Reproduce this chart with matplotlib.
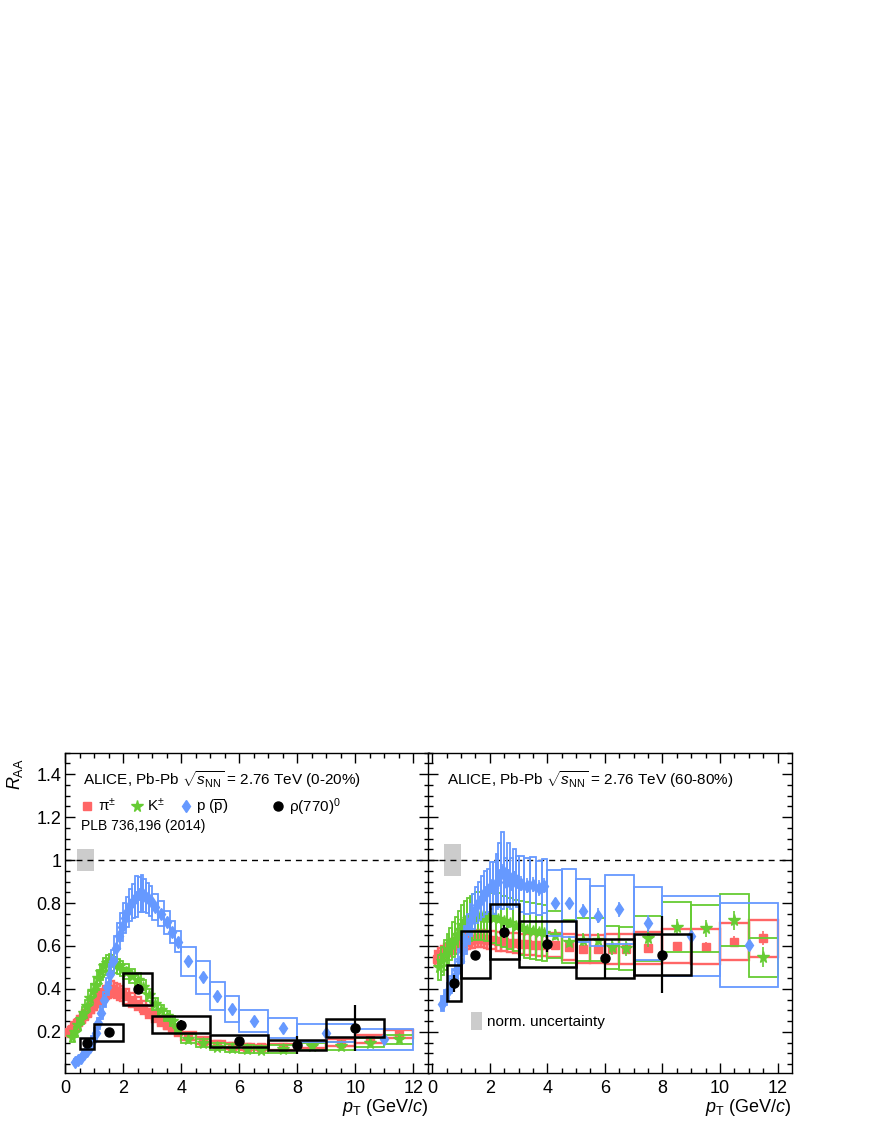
import numpy as np
import matplotlib
matplotlib.use('Agg')
import matplotlib.pyplot as plt
from matplotlib.lines import Line2D
from matplotlib.patches import Patch
from matplotlib.ticker import MultipleLocator, FuncFormatter

plt.rcParams['font.family'] = ['Liberation Sans', 'DejaVu Sans']
plt.rcParams['mathtext.fontset'] = 'custom'
plt.rcParams['mathtext.rm'] = 'Liberation Sans'
plt.rcParams['mathtext.it'] = 'Liberation Sans:italic'
plt.rcParams['mathtext.bf'] = 'Liberation Sans:bold'
plt.rcParams['mathtext.sf'] = 'Liberation Sans'

# ---------------- bin edges (GeV/c) ----------------
pion_edges = [0.1, 0.2, 0.3, 0.4, 0.5, 0.6, 0.7, 0.8, 0.9, 1.0, 1.1, 1.2, 1.3, 1.4,
              1.5, 1.6, 1.7, 1.8, 1.9, 2.0, 2.2, 2.4, 2.6, 2.8, 3.0, 3.2, 3.4, 3.6,
              3.8, 4.0, 4.5, 5.0, 5.5, 6.0, 6.5, 7.0, 8.0, 9.0, 10.0, 11.0, 12.0]
kaon_edges = [0.2, 0.3, 0.4, 0.5, 0.6, 0.7, 0.8, 0.9, 1.0, 1.1, 1.2, 1.3, 1.4, 1.5,
              1.6, 1.7, 1.8, 1.9, 2.0, 2.2, 2.4, 2.6, 2.8, 3.0, 3.2, 3.4, 3.6, 3.8,
              4.0, 4.5, 5.0, 5.5, 6.0, 6.5, 7.0, 8.0, 9.0, 10.0, 11.0, 12.0]
proton_edges = [0.3, 0.4, 0.5, 0.6, 0.7, 0.8, 0.9, 1.0, 1.1, 1.2, 1.3, 1.4, 1.5, 1.6,
                1.7, 1.8, 1.9, 2.0, 2.1, 2.2, 2.3, 2.4, 2.5, 2.6, 2.7, 2.8, 2.9, 3.0,
                3.2, 3.4, 3.6, 3.8, 4.0, 4.5, 5.0, 5.5, 6.0, 7.0, 8.0, 10.0, 12.0]
rho_edges_020 = [0.5, 1.0, 2.0, 3.0, 5.0, 7.0, 9.0, 11.0]
rho_edges_6080 = [0.5, 1.0, 2.0, 3.0, 5.0, 7.0, 9.0]

# ---------------- 0-20% ----------------
pion_020 = [0.200, 0.215, 0.230, 0.245, 0.260, 0.275, 0.290, 0.305, 0.320, 0.335,
            0.350, 0.365, 0.378, 0.390, 0.397, 0.398, 0.392, 0.385, 0.377,
            0.366, 0.350, 0.332, 0.313, 0.293, 0.272, 0.252, 0.234, 0.217, 0.202,
            0.182, 0.158, 0.143, 0.134, 0.130, 0.128,
            0.130, 0.138, 0.150, 0.168, 0.190]
pion_020_stat = [0.002, 0.002, 0.002, 0.002, 0.002, 0.002, 0.002, 0.002, 0.002, 0.002,
                 0.002, 0.002, 0.002, 0.002, 0.002, 0.002, 0.002, 0.002, 0.002,
                 0.003, 0.003, 0.003, 0.003, 0.003, 0.003, 0.003, 0.003, 0.003, 0.003,
                 0.004, 0.004, 0.005, 0.005, 0.006, 0.006,
                 0.006, 0.007, 0.008, 0.010, 0.012]
pion_020_sys = [0.025, 0.025, 0.026, 0.027, 0.028, 0.029, 0.030, 0.031, 0.032, 0.033,
                0.034, 0.035, 0.036, 0.036, 0.037, 0.037, 0.036, 0.036, 0.035,
                0.034, 0.033, 0.031, 0.030, 0.028, 0.026, 0.024, 0.022, 0.021, 0.020,
                0.018, 0.016, 0.014, 0.013, 0.013, 0.013,
                0.013, 0.014, 0.016, 0.018, 0.020]

kaon_020 = [0.175, 0.200, 0.230, 0.260, 0.290, 0.320, 0.360, 0.390, 0.420, 0.450,
            0.480, 0.505, 0.520, 0.525, 0.520, 0.510, 0.505, 0.495,
            0.480, 0.460, 0.440, 0.410, 0.370, 0.330, 0.300, 0.275, 0.250, 0.215,
            0.168, 0.150, 0.132, 0.125, 0.120, 0.118,
            0.120, 0.133, 0.135, 0.150, 0.165]
kaon_020_stat = [0.003, 0.003, 0.003, 0.003, 0.003, 0.003, 0.003, 0.003, 0.003, 0.003,
                 0.003, 0.003, 0.003, 0.003, 0.003, 0.003, 0.003, 0.003,
                 0.004, 0.004, 0.004, 0.004, 0.004, 0.004, 0.004, 0.004, 0.004, 0.004,
                 0.005, 0.005, 0.006, 0.006, 0.007, 0.008,
                 0.008, 0.010, 0.012, 0.015, 0.018]
kaon_020_sys = [0.020, 0.022, 0.024, 0.026, 0.028, 0.030, 0.032, 0.034, 0.035, 0.036,
                0.037, 0.038, 0.038, 0.038, 0.038, 0.037, 0.036, 0.035,
                0.034, 0.033, 0.032, 0.030, 0.028, 0.026, 0.024, 0.023, 0.022, 0.020,
                0.020, 0.018, 0.017, 0.017, 0.017, 0.017,
                0.017, 0.017, 0.018, 0.020, 0.022]

proton_020 = [0.060, 0.070, 0.080, 0.095, 0.110, 0.130, 0.160,
              0.195, 0.240, 0.290, 0.350, 0.410, 0.470, 0.530, 0.590, 0.645, 0.690,
              0.730, 0.760, 0.790, 0.810, 0.830, 0.840, 0.845, 0.835, 0.825, 0.810,
              0.780, 0.750, 0.710, 0.665, 0.620,
              0.528, 0.455, 0.366, 0.307,
              0.250, 0.218,
              0.195, 0.165]
proton_020_stat = [0.003, 0.003, 0.003, 0.003, 0.003, 0.003, 0.003,
                   0.005, 0.005, 0.005, 0.005, 0.005, 0.005, 0.005, 0.005, 0.005, 0.005,
                   0.008, 0.008, 0.008, 0.008, 0.008, 0.008, 0.008, 0.008, 0.008, 0.008,
                   0.010, 0.010, 0.010, 0.010, 0.010,
                   0.015, 0.016, 0.017, 0.018,
                   0.015, 0.015,
                   0.012, 0.012]
proton_020_sys = [0.012, 0.012, 0.013, 0.014, 0.015, 0.017, 0.019,
                  0.022, 0.026, 0.030, 0.035, 0.040, 0.045, 0.050, 0.055, 0.060, 0.065,
                  0.068, 0.070, 0.075, 0.080, 0.095, 0.080, 0.085, 0.075, 0.070, 0.070,
                  0.060, 0.058, 0.055, 0.052, 0.050,
                  0.067, 0.077, 0.065, 0.062,
                  0.050, 0.047,
                  0.044, 0.048]

rho_020 = [0.146, 0.198, 0.400, 0.234, 0.158, 0.138, 0.218]
rho_020_stat = [0.012, 0.012, 0.023, 0.020, 0.012, 0.043, 0.108]
rho_020_sys = [0.027, 0.040, 0.073, 0.040, 0.027, 0.023, 0.040]

# ---------------- 60-80% ----------------
pion_6080 = [0.540, 0.555, 0.565, 0.575, 0.585, 0.590, 0.600, 0.605, 0.610, 0.615,
             0.620, 0.625, 0.630, 0.632, 0.634, 0.635, 0.634, 0.632, 0.630,
             0.627, 0.623, 0.620, 0.616, 0.613, 0.610, 0.608, 0.606, 0.605, 0.604,
             0.605, 0.597, 0.585, 0.585, 0.588, 0.588,
             0.592, 0.600, 0.597, 0.620, 0.636]
pion_6080_stat = [0.004, 0.004, 0.004, 0.004, 0.004, 0.004, 0.004, 0.004, 0.004, 0.004,
                  0.004, 0.004, 0.004, 0.004, 0.004, 0.004, 0.004, 0.004, 0.004,
                  0.006, 0.006, 0.006, 0.006, 0.006, 0.006, 0.006, 0.006, 0.006, 0.006,
                  0.010, 0.010, 0.012, 0.013, 0.015, 0.016,
                  0.015, 0.018, 0.022, 0.027, 0.032]
pion_6080_sys = [0.035, 0.035, 0.035, 0.036, 0.036, 0.037, 0.037, 0.038, 0.038, 0.039,
                 0.039, 0.040, 0.040, 0.040, 0.041, 0.041, 0.041, 0.042, 0.042,
                 0.043, 0.044, 0.045, 0.046, 0.047, 0.048, 0.049, 0.050, 0.050, 0.050,
                 0.055, 0.060, 0.065, 0.065, 0.070, 0.070,
                 0.075, 0.080, 0.080, 0.085, 0.085]

kaon_6080 = [0.500, 0.530, 0.560, 0.585, 0.610, 0.630, 0.650, 0.675, 0.700, 0.715,
             0.725, 0.730, 0.735, 0.740, 0.740, 0.740, 0.735, 0.735,
             0.730, 0.725, 0.715, 0.705, 0.695, 0.685, 0.675, 0.670, 0.665, 0.660,
             0.652, 0.620, 0.630, 0.630, 0.594, 0.590,
             0.636, 0.690, 0.683, 0.720, 0.547]
kaon_6080_stat = [0.010, 0.010, 0.010, 0.010, 0.010, 0.010, 0.010, 0.010, 0.010, 0.010,
                  0.010, 0.010, 0.010, 0.010, 0.010, 0.010, 0.010, 0.010,
                  0.020, 0.020, 0.020, 0.020, 0.020, 0.020, 0.020, 0.020, 0.020, 0.020,
                  0.025, 0.025, 0.030, 0.030, 0.035, 0.035,
                  0.040, 0.035, 0.040, 0.045, 0.047]
kaon_6080_sys = [0.060, 0.065, 0.070, 0.070, 0.075, 0.080, 0.085, 0.090, 0.090, 0.095,
                 0.100, 0.105, 0.105, 0.110, 0.110, 0.110, 0.110, 0.110,
                 0.115, 0.120, 0.120, 0.120, 0.120, 0.125, 0.130, 0.130, 0.130, 0.130,
                 0.110, 0.100, 0.100, 0.100, 0.100, 0.100,
                 0.105, 0.116, 0.110, 0.120, 0.090]

proton_6080 = [0.330, 0.360, 0.390, 0.420, 0.450, 0.490, 0.530,
               0.580, 0.630, 0.680, 0.720, 0.760, 0.790, 0.810, 0.830, 0.850, 0.860,
               0.880, 0.870, 0.900, 0.930, 0.950, 0.900, 0.930, 0.890, 0.920, 0.900,
               0.890, 0.880, 0.885, 0.870, 0.880,
               0.800, 0.800, 0.765, 0.741,
               0.771, 0.706,
               0.647, 0.605]
proton_6080_stat = [0.010, 0.010, 0.010, 0.010, 0.010, 0.010, 0.010,
                    0.020, 0.020, 0.020, 0.020, 0.020, 0.020, 0.020, 0.020, 0.020, 0.020,
                    0.030, 0.030, 0.030, 0.030, 0.030, 0.030, 0.030, 0.030, 0.030, 0.030,
                    0.035, 0.035, 0.035, 0.035, 0.035,
                    0.025, 0.025, 0.030, 0.035,
                    0.035, 0.040,
                    0.010, 0.010]
proton_6080_sys = [0.035, 0.035, 0.040, 0.040, 0.045, 0.050, 0.055,
                   0.060, 0.065, 0.070, 0.075, 0.080, 0.085, 0.090, 0.095, 0.100, 0.100,
                   0.110, 0.120, 0.130, 0.150, 0.180, 0.110, 0.150, 0.120, 0.130, 0.120,
                   0.130, 0.130, 0.130, 0.125, 0.125,
                   0.155, 0.160, 0.145, 0.140,
                   0.160, 0.170,
                   0.185, 0.195]

rho_6080 = [0.427, 0.559, 0.666, 0.610, 0.542, 0.559]
rho_6080_stat = [0.039, 0.020, 0.030, 0.040, 0.090, 0.180]
rho_6080_sys = [0.083, 0.110, 0.128, 0.107, 0.090, 0.095]

# normalisation uncertainty around unity
norm_unc = [0.053, 0.076]
norm_box_x = [0.42, 1.0]

labels_cent = ['0-20%', '60-80%']

c_pi = '#ff6666'
c_k = '#66cc33'
c_p = '#6699ff'
c_norm = '#cccccc'


def draw_species(ax, edges, raa, stat, sys, color, marker, ms, z, lw_box=1.3, lw_err=1.2):
    edges = np.array(edges)
    pt = 0.5 * (edges[:-1] + edges[1:])
    width = np.diff(edges)
    raa = np.array(raa)
    sys = np.array(sys)
    ax.bar(pt, 2 * sys, width=width, bottom=raa - sys, fill=False,
           edgecolor=color, linewidth=lw_box, zorder=z)
    ax.errorbar(pt, raa, yerr=stat, fmt=marker, color=color, mec=color, ms=ms,
                elinewidth=lw_err, capsize=0, zorder=z + 0.5)


fig = plt.figure(figsize=(8.73, 11.3), dpi=100)
ax1 = fig.add_axes([0.0745, 0.0507, 0.4164, 0.2832])
ax2 = fig.add_axes([0.4908, 0.0507, 0.4160, 0.2832])

panels = [
    (ax1, pion_020, pion_020_stat, pion_020_sys, kaon_020, kaon_020_stat, kaon_020_sys,
     proton_020, proton_020_stat, proton_020_sys, rho_edges_020, rho_020, rho_020_stat,
     rho_020_sys, norm_unc[0], labels_cent[0]),
    (ax2, pion_6080, pion_6080_stat, pion_6080_sys, kaon_6080, kaon_6080_stat, kaon_6080_sys,
     proton_6080, proton_6080_stat, proton_6080_sys, rho_edges_6080, rho_6080, rho_6080_stat,
     rho_6080_sys, norm_unc[1], labels_cent[1]),
]

for (ax, pi, pi_st, pi_sy, k, k_st, k_sy, p, p_st, p_sy,
     rho_e, rho, rho_st, rho_sy, nu, cent) in panels:
    ax.fill_between(norm_box_x, 1 - nu, 1 + nu, color=c_norm, lw=0, zorder=1)
    ax.axhline(1.0, color='black', lw=1.0, ls=(0, (4.3, 3.6)), zorder=1.5)

    draw_species(ax, pion_edges, pi, pi_st, pi_sy, c_pi, 's', 5.5, 2, lw_box=1.7)
    draw_species(ax, kaon_edges, k, k_st, k_sy, c_k, '*', 8.5, 3)
    draw_species(ax, proton_edges, p, p_st, p_sy, c_p, 'd', 6.5, 4)
    draw_species(ax, rho_e, rho, rho_st, rho_sy, 'black', 'o', 6.5, 5, lw_box=1.8, lw_err=1.6)

    ax.text(0.05, 0.915, r'ALICE, Pb-Pb $\sqrt{s_{\mathrm{NN}}}$ = 2.76 TeV (' + cent + ')',
            transform=ax.transAxes, fontsize=11, va='center', ha='left')

    ax.xaxis.set_major_locator(MultipleLocator(2))
    ax.xaxis.set_minor_locator(MultipleLocator(0.5))
    ax.yaxis.set_major_locator(MultipleLocator(0.2))
    ax.yaxis.set_minor_locator(MultipleLocator(0.05))
    ax.xaxis.set_major_formatter(FuncFormatter(lambda v, pos: '%g' % round(v, 2)))
    ax.yaxis.set_major_formatter(FuncFormatter(lambda v, pos: '%g' % round(v, 2)))
    ax.tick_params(which='both', direction='in', top=True, right=True, width=1.0,
                   labelsize=13)
    ax.tick_params(which='major', length=7)
    ax.tick_params(which='minor', length=3.5)
    ax.tick_params(axis='x', pad=5)
    ax.tick_params(axis='y', pad=2.5)
    for s in ax.spines.values():
        s.set_linewidth(1.0)

    ax.set_ylim(0.01, 1.5)
    ax.set_xlabel(r'$p_{\mathrm{T}}$ (GeV/$c$)', fontsize=13, loc='right')
    ax.xaxis.set_label_coords(1.0, -0.075)

ax1.set_xlim(0, 12.52)
ax2.set_xlim(-0.13, 12.49)
ax2.tick_params(labelleft=False)

ax1.set_ylabel(r'$R_{\mathrm{AA}}$', fontsize=13, loc='top')
ax1.yaxis.set_label_coords(-0.11, 0.983)

# legend of the species (left panel)
h_pi = Line2D([], [], ls='none', marker='s', color=c_pi, ms=5.5)
h_k = Line2D([], [], ls='none', marker='*', color=c_k, ms=8.5)
h_p = Line2D([], [], ls='none', marker='d', color=c_p, ms=6.5)
h_rho = Line2D([], [], ls='none', marker='o', color='black', ms=6.5)

leg1 = ax1.legend([h_pi, h_k, h_p], ['π$^{\\pm}$', 'K$^{\\pm}$', r'p ($\overline{\mathrm{p}}$)'],
                  ncol=3, loc='center left', bbox_to_anchor=(0.04, 0.831),
                  frameon=False, fontsize=11, handlelength=1.0, handletextpad=0.2,
                  columnspacing=0.85, borderpad=0, borderaxespad=0)
ax1.add_artist(leg1)
ax1.legend([h_rho], ['ρ(770)$^{0}$'], loc='center left', bbox_to_anchor=(0.565, 0.831),
           frameon=False, fontsize=11, handlelength=1.0, handletextpad=0.2,
           borderpad=0, borderaxespad=0)

ax1.text(0.043, 0.772, 'PLB 736,196 (2014)', transform=ax1.transAxes,
         fontsize=10, va='center', ha='left')

# normalisation legend (right panel)
ax2.legend([Patch(facecolor=c_norm, edgecolor='none')], ['norm. uncertainty'],
           loc='center left', bbox_to_anchor=(0.116, 0.162), frameon=False, fontsize=11,
           handlelength=0.72, handleheight=1.4, handletextpad=0.33,
           borderpad=0, borderaxespad=0)

fig.savefig('out.png', dpi=100)
